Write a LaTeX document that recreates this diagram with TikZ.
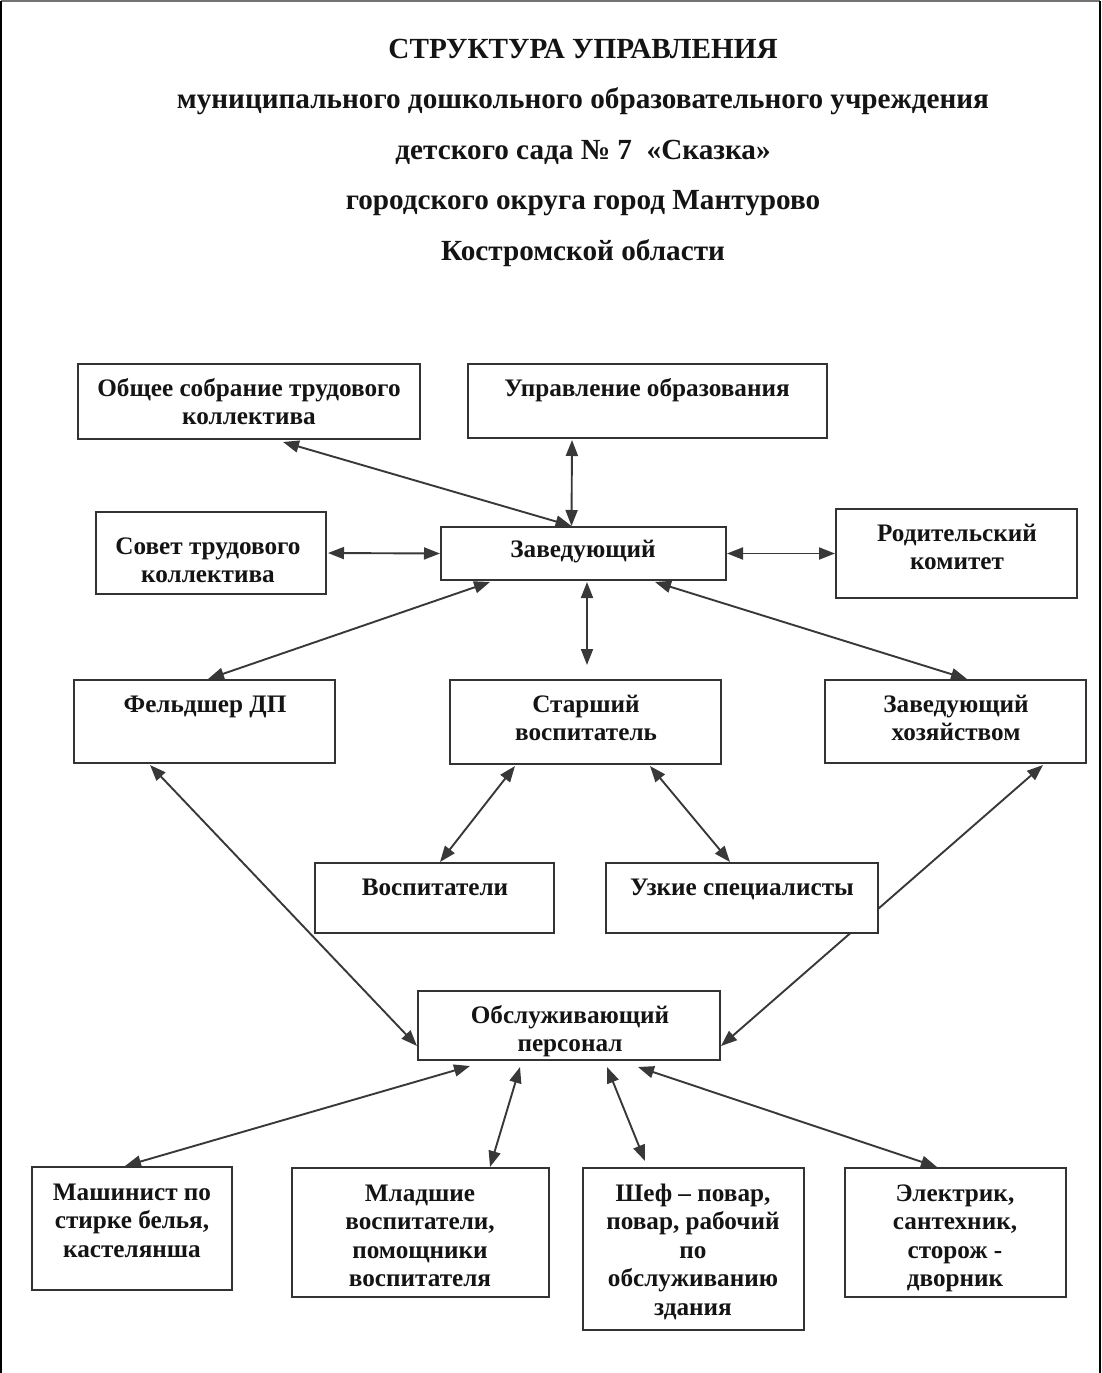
\documentclass[tikz,border=0pt]{standalone}
\usepackage{fontspec}
\setmainfont{Liberation Serif}
\usetikzlibrary{arrows.meta,backgrounds}
\begin{document}
\begin{tikzpicture}[x=1pt,y=-1pt,
  box/.style={draw=black!80, line width=2pt, fill=white, inner sep=0pt, rectangle},
  txt/.style={anchor=north, inner sep=0pt, align=center, text=black!92,
     font=\fontsize{25.2}{28.5}\selectfont\bfseries},
  ttl/.style={anchor=north, inner sep=0pt, align=center, text=black!92,
     font=\fontsize{29.2}{50.5}\selectfont\bfseries},
  conn/.style={draw=black!78, line width=1.9pt,
     {Triangle[length=16pt,width=12pt]}-{Triangle[length=16pt,width=12pt]}},
  frm/.style={line width=2pt}
]
\useasboundingbox (0,0) rectangle (1102,1373);
% page frame
\coordinate (ftl) at (1,1);
\coordinate (ftr) at (1100,1);
\coordinate (fbl) at (1,1373);
\coordinate (fbr) at (1100,1373);
\draw[frm, black!55] (ftl) -- (ftr);
\draw[frm, black] (ftl) -- (fbl);
\draw[frm, black] (ftr) -- (fbr);

% title
\node[ttl] (title) at (583,22.6) {\strut СТРУКТУРА УПРАВЛЕНИЯ\\
муниципального дошкольного образовательного учреждения\\
детского сада №~7\ \ «Сказка»\\
городского округа город Мантурово\\
Костромской области};

% boxes
\node[box, minimum width=342pt, minimum height=75pt] (obsch) at (249,401.5) {};
\node[box, minimum width=359pt, minimum height=74pt] (upr) at (647.5,401) {};
\node[box, minimum width=230pt, minimum height=82pt] (sovet) at (211,553) {};
\node[box, minimum width=285pt, minimum height=53pt] (zav) at (583.5,553.5) {};
\node[box, minimum width=241pt, minimum height=89pt] (rod) at (956.5,553.5) {};
\node[box, minimum width=261pt, minimum height=83pt] (feld) at (204.5,721.5) {};
\node[box, minimum width=271pt, minimum height=84pt] (star) at (585.5,722) {};
\node[box, minimum width=261pt, minimum height=83pt] (zavhoz) at (955.5,721.5) {};
\node[box, minimum width=239pt, minimum height=70pt] (vosp) at (434.5,898) {};
\node[box, minimum width=272pt, minimum height=70pt] (uzk) at (742,898) {};
\node[box, minimum width=302pt, minimum height=69pt] (obsl) at (569,1025.5) {};
\node[box, minimum width=200pt, minimum height=123pt] (mash) at (132,1228.5) {};
\node[box, minimum width=257pt, minimum height=129pt] (mlad) at (420.5,1232.5) {};
\node[box, minimum width=221pt, minimum height=162pt] (shef) at (693.5,1249) {};
\node[box, minimum width=221pt, minimum height=129pt] (elek) at (955.5,1232.5) {};

% texts
\node[txt] (obsch-t) at (249,376) {\strut Общее собрание трудового\\коллектива};
\node[txt] (upr-t) at (647,376) {\strut Управление образования};
\node[txt] (sovet-t) at (208,534) {\strut Совет трудового\\коллектива};
\node[txt] (zav-t) at (583,537) {\strut Заведующий};
\node[txt] (rod-t) at (957,521) {\strut Родительский\\комитет};
\node[txt] (feld-t) at (205,692) {\strut Фельдшер ДП};
\node[txt] (star-t) at (586,692) {\strut Старший\\воспитатель};
\node[txt] (zavhoz-t) at (956,692) {\strut Заведующий\\хозяйством};
\node[txt] (vosp-t) at (435,875) {\strut Воспитатели};
\node[txt] (uzk-t) at (742,875) {\strut Узкие специалисты};
\node[txt] (obsl-t) at (570,1003) {\strut Обслуживающий\\персонал};
\node[txt] (mash-t) at (132,1180) {\strut Машинист по\\стирке белья,\\кастелянша};
\node[txt] (mlad-t) at (420,1181) {\strut Младшие\\воспитатели,\\помощники\\воспитателя};
\node[txt] (shef-t) at (693,1181) {\strut Шеф – повар,\\повар, рабочий\\по\\обслуживанию\\здания};
\node[txt] (elek-t) at (955,1181) {\strut Электрик,\\сантехник,\\сторож -\\дворник};

% connectors
\begin{scope}[on background layer]
\coordinate (zt) at ([xshift=-12pt]zav.north);
\draw[conn] ([xshift=34pt,yshift=-2pt]obsch.south) -- (zt);
\draw[conn] ([xshift=-75.5pt,yshift=-1pt]upr.south) -- (zt);
\draw[conn] ([xshift=1pt]sovet.east) -- (zav.west);
\draw[conn] (zav.east) -- (rod.west);
\draw[conn] ([xshift=-93.5pt,yshift=-1pt]zav.south) -- ([xshift=3.5pt]feld.north);
\draw[conn] ([xshift=3.5pt,yshift=-1pt]zav.south) -- ([xshift=1.5pt,yshift=14pt]star.north);
\draw[conn] ([xshift=71.5pt,yshift=-1pt]zav.south) -- ([xshift=11.5pt]zavhoz.north);
\draw[conn] ([xshift=-54.5pt,yshift=-1pt]feld.south) -- ([yshift=15pt]obsl.south west);
\draw[conn] ([xshift=-70.5pt,yshift=-1pt]star.south) -- ([xshift=5.5pt]vosp.north);
\draw[conn] ([xshift=64.5pt,yshift=-1pt]star.south) -- ([xshift=-12pt]uzk.north);
\draw[conn] ([xshift=87.5pt,yshift=-1pt]zavhoz.south) -- ([yshift=15pt]obsl.south east);
\draw[conn] ([xshift=-99pt,yshift=-5pt]obsl.south) -- ([xshift=-7pt]mash.north);
\draw[conn] ([xshift=-49pt,yshift=-6pt]obsl.south) -- ([xshift=69.5pt]mlad.north);
\draw[conn] ([xshift=38pt,yshift=-6pt]obsl.south) -- ([xshift=-48.5pt,yshift=6pt]shef.north);
\draw[conn] ([xshift=69pt,yshift=-6pt]obsl.south) -- ([xshift=-18.5pt]elek.north);
\end{scope}
\end{tikzpicture}
\end{document}
